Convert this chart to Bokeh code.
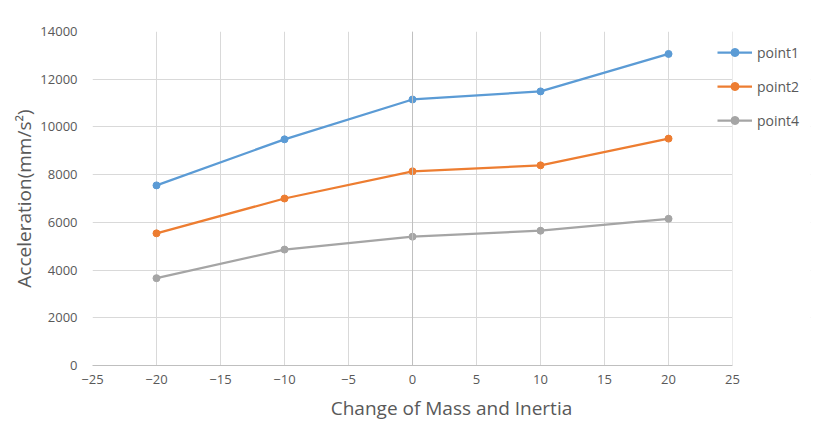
from bokeh.plotting import figure
from bokeh.models import Range1d, FixedTicker, Span, Legend, LegendItem, BoxAnnotation
from bokeh.embed import file_html
from bokeh.resources import INLINE

x_vals = [-20, -10, 0, 10, 20]
point1 = [7550, 9480, 11150, 11490, 13060]
point2 = [5540, 7000, 8140, 8390, 9510]
point4 = [3660, 4860, 5400, 5650, 6150]
series_names = ["point1", "point2", "point4"]
colors = ["#5b9bd5", "#ed7d31", "#a5a5a5"]
x_ticks = [-25, -20, -15, -10, -5, 0, 5, 10, 15, 20, 25]
y_ticks = [0, 2000, 4000, 6000, 8000, 10000, 12000, 14000]

FONT = "Open Sans"
TXT = "#595959"

p = figure(width=814, height=423, output_backend="svg", toolbar_location=None,
           x_range=Range1d(-25, 31.09), y_range=Range1d(0, 14000),
           min_border_left=92, min_border_right=4, min_border_top=31, min_border_bottom=58)
p.outline_line_color = None

p.xaxis.ticker = FixedTicker(ticks=x_ticks)
p.yaxis.ticker = FixedTicker(ticks=y_ticks)
p.xaxis.bounds = (x_ticks[0], x_ticks[-1])
for ax in (p.xaxis, p.yaxis):
    ax.major_tick_line_color = None
    ax.minor_tick_line_color = None
    ax.major_label_text_font = FONT
    ax.major_label_text_font_size = "13px"
    ax.major_label_text_color = TXT
    ax.axis_label_text_font = FONT
    ax.axis_label_text_font_size = "19px"
    ax.axis_label_text_font_style = "normal"
    ax.axis_label_text_color = TXT
p.yaxis.axis_line_color = None
p.xaxis.axis_line_color = "#bfbfbf"
p.xaxis.major_label_standoff = 3
p.yaxis.major_label_standoff = 9
p.xaxis.axis_label = "Change of Mass and Inertia"
p.yaxis.axis_label = "Acceleration(mm/s\u00b2)"
p.xaxis.axis_label_standoff = 8
p.yaxis.axis_label_standoff = 0

p.xgrid.grid_line_color = "#d9d9d9"
p.ygrid.grid_line_color = "#d9d9d9"

p.add_layout(Span(location=0, dimension="height", line_color="#bfbfbf", line_width=1))

# blank out the area right of the last x tick (legend area)
p.add_layout(BoxAnnotation(left=x_ticks[-1], fill_color="white", fill_alpha=1.0,
                           line_color=None, level="annotation"))

items = []
for name, ys, c in zip(series_names, [point1, point2, point4], colors):
    l = p.line(x_vals, ys, line_color=c, line_width=2.25)
    m = p.scatter(x_vals, ys, marker="circle", size=7, fill_color=c, line_color=c)
    items.append(LegendItem(label=name, renderers=[l, m]))

legend = Legend(items=items, location=(625, 235), orientation="vertical",
                background_fill_alpha=0, border_line_color=None,
                label_text_font=FONT, label_text_font_size="14px", label_text_color=TXT,
                glyph_width=35, glyph_height=20, label_height=20, spacing=14,
                padding=0, margin=0, label_standoff=5)
p.add_layout(legend, "center")

open("out.html", "w").write(file_html(p, INLINE))
